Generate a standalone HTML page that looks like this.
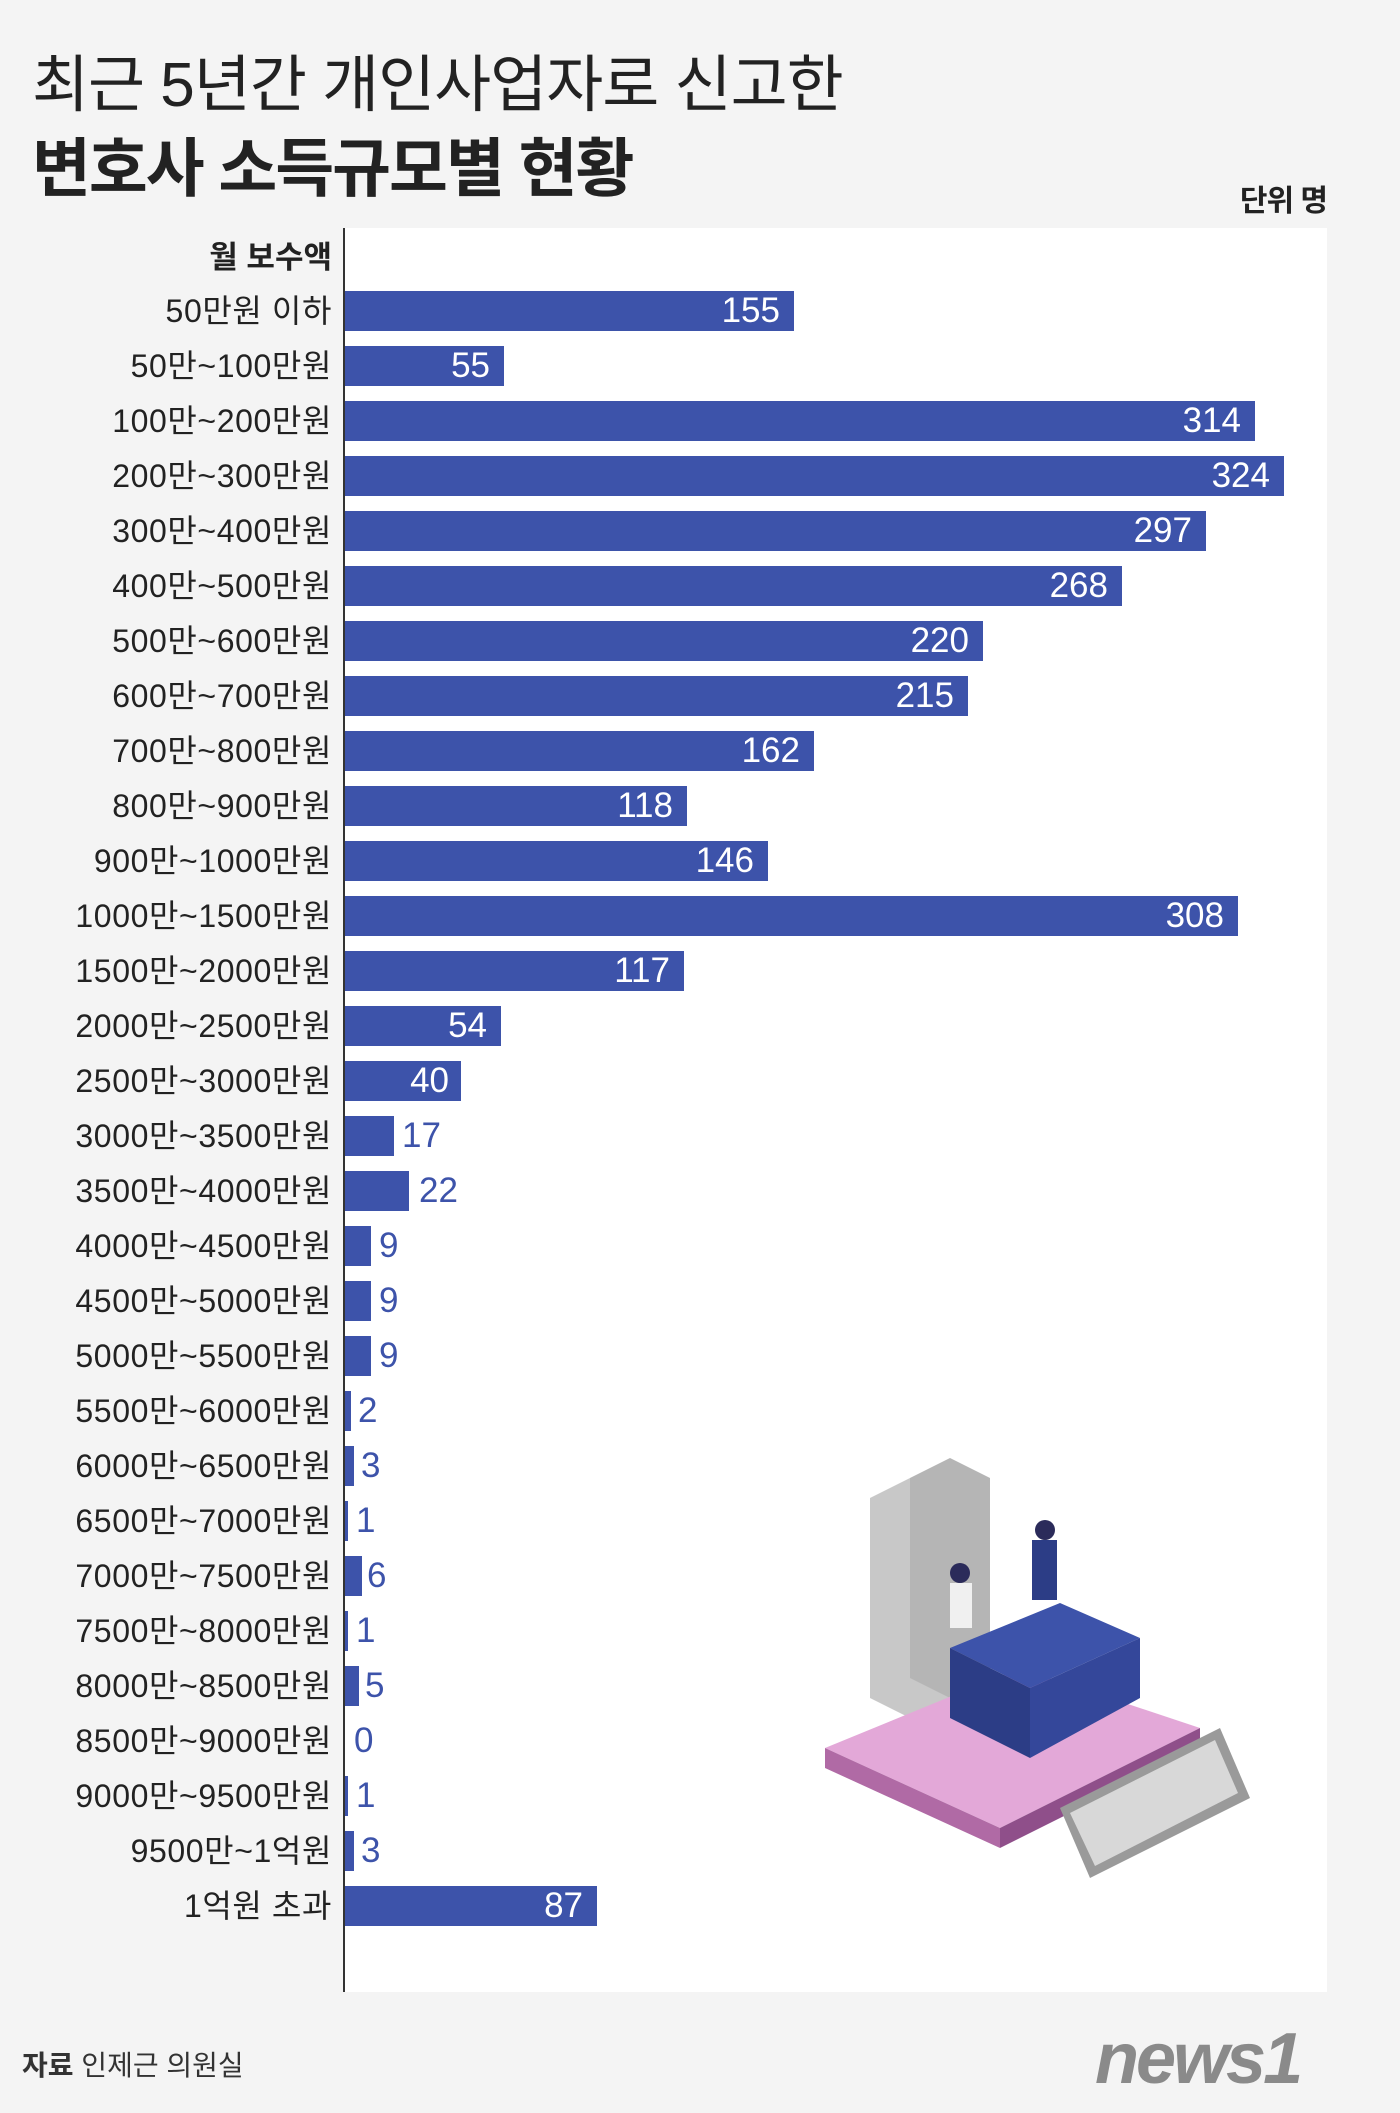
<!DOCTYPE html>
<html><head><meta charset="utf-8"><style>
*{margin:0;padding:0;box-sizing:border-box}
body{width:1400px;height:2113px;background:#f4f4f4;position:relative;overflow:hidden;font-family:"Liberation Sans","Noto Sans CJK KR",sans-serif;color:#222}
.t1{position:absolute;left:32px;top:34px;font-size:62px;letter-spacing:-1px;font-weight:400}
.t2{position:absolute;left:32px;top:118px;font-size:64px;letter-spacing:-2px;font-weight:700}
.unit{position:absolute;right:73px;top:176px;font-size:30px;font-weight:700;letter-spacing:-1px}
.panel{position:absolute;left:344px;top:228px;width:983px;height:1764px;background:#fff}
.axis{position:absolute;left:343px;top:228px;width:2px;height:1764px;background:#333}
.hdr{position:absolute;right:1068px;top:232px;font-size:31px;font-weight:700;letter-spacing:0px}
.rows{position:absolute;left:0;top:291px;width:1400px}
.row{height:55.02px;position:relative}
.lab{position:absolute;right:1068px;top:0;height:40px;line-height:40px;font-size:32px;white-space:nowrap;letter-spacing:0.6px}
.bar{position:absolute;left:345px;top:0;height:40px;background:#3d53aa}
.v{position:absolute;top:0;height:40px;line-height:40px;font-size:35px;color:#fff;text-align:right}
.o{color:#3d53aa;text-align:left}
.foot{position:absolute;left:22px;top:2044px;font-size:28px;color:#333}
.logo{position:absolute;left:1095px;top:2018px;font-size:72px;font-weight:700;font-style:italic;color:#8a8a8a;letter-spacing:-3px}
</style></head><body>
<div class="t1">최근 5년간 개인사업자로 신고한</div>
<div class="t2">변호사 소득규모별 현황</div>
<div class="unit">단위 명</div>
<div class="panel"></div>
<div class="hdr">월 보수액</div>
<svg style="position:absolute;left:820px;top:1448px" width="450" height="440" viewBox="0 0 450 440">
<polygon points="50,50 90,30 130,50 130,250 90,270 50,250" fill="#c8c8c8"/>
<polygon points="90,30 130,10 170,30 170,230 130,250 90,230" fill="#b5b5b5"/>
<polygon points="5,300 200,220 380,280 180,380" fill="#e3a8d8"/>
<polygon points="5,300 180,380 180,400 5,320" fill="#b06aa5"/>
<polygon points="180,380 380,280 380,300 180,400" fill="#8f4f8a"/>
<polygon points="130,200 240,155 320,190 210,240" fill="#3d53aa"/>
<polygon points="130,200 210,240 210,310 130,270" fill="#2c3d86"/>
<polygon points="210,240 320,190 320,250 210,310" fill="#34479a"/>
<circle cx="140" cy="125" r="10" fill="#2b2b5a"/><rect x="130" y="135" width="22" height="45" fill="#f0f0f0"/>
<circle cx="225" cy="82" r="10" fill="#2b2b5a"/><rect x="212" y="92" width="25" height="60" fill="#2c3d86"/>
<polygon points="240,360 400,280 430,350 270,430" fill="#9a9a9a"/>
<polygon points="250,365 395,292 418,345 275,418" fill="#d8d8d8"/>
</svg>
<div class="axis"></div>
<div class="rows">
<div class="row"><div class="lab">50만원 이하</div><div class="bar" style="width:449px"></div><div class="v" style="left:345px;width:435px">155</div></div>
<div class="row"><div class="lab">50만~100만원</div><div class="bar" style="width:159px"></div><div class="v" style="left:345px;width:145px">55</div></div>
<div class="row"><div class="lab">100만~200만원</div><div class="bar" style="width:910px"></div><div class="v" style="left:345px;width:896px">314</div></div>
<div class="row"><div class="lab">200만~300만원</div><div class="bar" style="width:939px"></div><div class="v" style="left:345px;width:925px">324</div></div>
<div class="row"><div class="lab">300만~400만원</div><div class="bar" style="width:861px"></div><div class="v" style="left:345px;width:847px">297</div></div>
<div class="row"><div class="lab">400만~500만원</div><div class="bar" style="width:777px"></div><div class="v" style="left:345px;width:763px">268</div></div>
<div class="row"><div class="lab">500만~600만원</div><div class="bar" style="width:638px"></div><div class="v" style="left:345px;width:624px">220</div></div>
<div class="row"><div class="lab">600만~700만원</div><div class="bar" style="width:623px"></div><div class="v" style="left:345px;width:609px">215</div></div>
<div class="row"><div class="lab">700만~800만원</div><div class="bar" style="width:469px"></div><div class="v" style="left:345px;width:455px">162</div></div>
<div class="row"><div class="lab">800만~900만원</div><div class="bar" style="width:342px"></div><div class="v" style="left:345px;width:328px">118</div></div>
<div class="row"><div class="lab">900만~1000만원</div><div class="bar" style="width:423px"></div><div class="v" style="left:345px;width:409px">146</div></div>
<div class="row"><div class="lab">1000만~1500만원</div><div class="bar" style="width:893px"></div><div class="v" style="left:345px;width:879px">308</div></div>
<div class="row"><div class="lab">1500만~2000만원</div><div class="bar" style="width:339px"></div><div class="v" style="left:345px;width:325px">117</div></div>
<div class="row"><div class="lab">2000만~2500만원</div><div class="bar" style="width:156px"></div><div class="v" style="left:345px;width:142px">54</div></div>
<div class="row"><div class="lab">2500만~3000만원</div><div class="bar" style="width:116px"></div><div class="v" style="left:345px;width:104px">40</div></div>
<div class="row"><div class="lab">3000만~3500만원</div><div class="bar" style="width:49px"></div><div class="v o" style="left:402px">17</div></div>
<div class="row"><div class="lab">3500만~4000만원</div><div class="bar" style="width:64px"></div><div class="v o" style="left:419px">22</div></div>
<div class="row"><div class="lab">4000만~4500만원</div><div class="bar" style="width:26px"></div><div class="v o" style="left:379px">9</div></div>
<div class="row"><div class="lab">4500만~5000만원</div><div class="bar" style="width:26px"></div><div class="v o" style="left:379px">9</div></div>
<div class="row"><div class="lab">5000만~5500만원</div><div class="bar" style="width:26px"></div><div class="v o" style="left:379px">9</div></div>
<div class="row"><div class="lab">5500만~6000만원</div><div class="bar" style="width:6px"></div><div class="v o" style="left:358px">2</div></div>
<div class="row"><div class="lab">6000만~6500만원</div><div class="bar" style="width:9px"></div><div class="v o" style="left:361px">3</div></div>
<div class="row"><div class="lab">6500만~7000만원</div><div class="bar" style="width:3px"></div><div class="v o" style="left:356px">1</div></div>
<div class="row"><div class="lab">7000만~7500만원</div><div class="bar" style="width:17px"></div><div class="v o" style="left:367px">6</div></div>
<div class="row"><div class="lab">7500만~8000만원</div><div class="bar" style="width:3px"></div><div class="v o" style="left:356px">1</div></div>
<div class="row"><div class="lab">8000만~8500만원</div><div class="bar" style="width:14px"></div><div class="v o" style="left:365px">5</div></div>
<div class="row"><div class="lab">8500만~9000만원</div><div class="v o" style="left:354px">0</div></div>
<div class="row"><div class="lab">9000만~9500만원</div><div class="bar" style="width:3px"></div><div class="v o" style="left:356px">1</div></div>
<div class="row"><div class="lab">9500만~1억원</div><div class="bar" style="width:9px"></div><div class="v o" style="left:361px">3</div></div>
<div class="row"><div class="lab">1억원 초과</div><div class="bar" style="width:252px"></div><div class="v" style="left:345px;width:238px">87</div></div>
</div>
<div class="foot"><b>자료</b> 인제근 의원실</div>
<div class="logo">news1</div>
</body></html>
